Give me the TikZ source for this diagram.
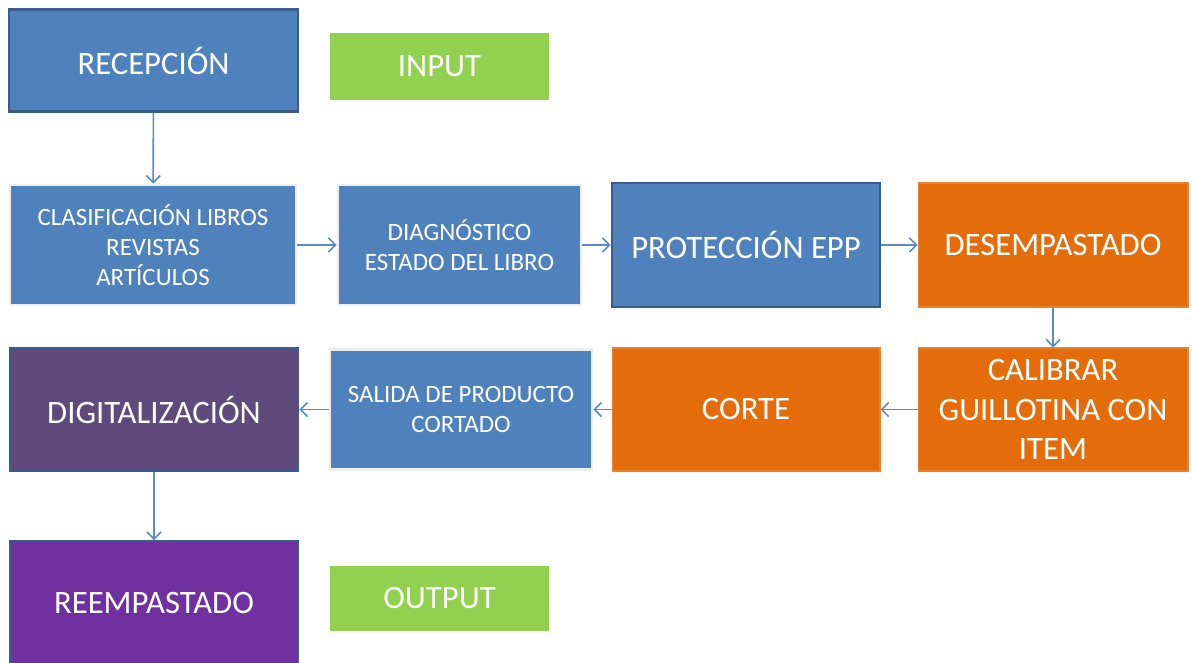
\documentclass[tikz,border=0pt]{standalone}
\usepackage{fontspec}
\setmainfont{Carlito}
\usetikzlibrary{arrows.meta}

\definecolor{boxblue}{HTML}{4F81BD}
\definecolor{edgeblue}{HTML}{385D8A}
\definecolor{boxorange}{HTML}{E46C0A}
\definecolor{boxgrape}{HTML}{604A7B}
\definecolor{boxpurple}{HTML}{7030A0}
\definecolor{boxgreen}{HTML}{92D050}
\definecolor{paleedge}{HTML}{EEEEEE}
\definecolor{flowline}{HTML}{5B8BC6}

\tikzset{
  box/.style={rectangle, text=white, align=center, inner sep=2pt, font=\fontsize{18.6}{22.4}\selectfont},
  darkbox/.style={box, fill=boxblue, draw=edgeblue, line width=1.6pt},
  palebox/.style={box, fill=boxblue, draw=paleedge, line width=1.6pt, font=\fontsize{14.2}{17}\selectfont},
  orangebox/.style={box, fill=boxorange, draw=boxorange!85!white, line width=0.6pt},
  tagbox/.style={box, fill=boxgreen},
  flow/.style={-{Straight Barb[length=4pt,width=8pt]}, flowline, line width=0.9pt}
}

\begin{document}
\begin{tikzpicture}[x=0.02cm,y=-0.02cm]
  \useasboundingbox[fill=white] (0,0) rectangle (1192,662);
  % First column and tags
  \node[darkbox, minimum width=5.78cm, minimum height=2.04cm] (recep) at (153.5,60.5) {RECEPCIÓN};
  \node[tagbox, minimum width=4.38cm, minimum height=1.34cm] (input) at (439.5,66.5) {INPUT};
  % Top row
  \node[palebox, minimum width=5.72cm, minimum height=2.4cm] (clasif) at (153,245) {CLASIFICACIÓN LIBROS\\REVISTAS\\ARTÍCULOS};
  \node[palebox, minimum width=4.86cm, minimum height=2.4cm] (diag) at (459.5,245) {DIAGNÓSTICO\\ESTADO DEL LIBRO};
  \node[darkbox, minimum width=5.36cm, minimum height=2.48cm] (prot) at (746,245) {PROTECCIÓN EPP};
  \node[orangebox, minimum width=5.4cm, minimum height=2.48cm] (desemp) at (1053,245) {DESEMPASTADO};
  % Second row
  \node[darkbox, fill=boxgrape, minimum width=5.76cm, minimum height=2.46cm] (digit) at (154,409.5) {DIGITALIZACIÓN};
  \node[palebox, minimum width=5.24cm, minimum height=2.4cm] (salida) at (461,409.5) {SALIDA DE PRODUCTO\\CORTADO};
  \node[orangebox, minimum width=5.36cm, minimum height=2.46cm] (corte) at (746,409.5) {CORTE};
  \node[orangebox, minimum width=5.4cm, minimum height=2.46cm] (calib) at (1053,409.5) {CALIBRAR\\GUILLOTINA CON\\ITEM};
  % Bottom row
  \node[darkbox, fill=boxpurple, line width=1pt, minimum width=5.76cm, minimum height=2.5cm] (reemp) at (154,603.5) {REEMPASTADO};
  \node[tagbox, minimum width=4.38cm, minimum height=1.3cm] (output) at (439.5,598.5) {OUTPUT};
  % Flow
  \draw[flow] (recep) -- (clasif);
  \draw[flow] (clasif) -- (diag);
  \draw[flow] (diag) -- (prot);
  \draw[flow] (prot) -- (desemp);
  \draw[flow] (desemp) -- (calib);
  \draw[flow] (calib) -- (corte);
  \draw[flow] (corte) -- (salida);
  \draw[flow] (salida) -- (digit);
  \draw[flow] (digit) -- (reemp);
\end{tikzpicture}
\end{document}
